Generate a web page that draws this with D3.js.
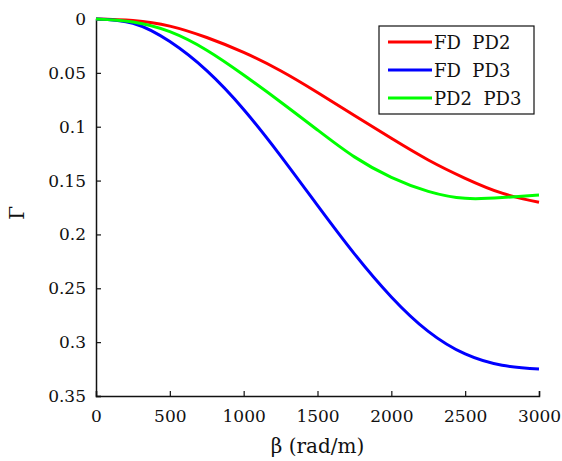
<!DOCTYPE html>
<html>
<head>
<meta charset="utf-8">
<script src="https://cdn.jsdelivr.net/npm/d3@7"></script>
<style>
body { margin: 0; background: #fff; }
</style>
</head>
<body>
<div id="chart"></div>
<script>
// data
var beta = [0, 250, 500, 750, 1000, 1250, 1500, 1750, 2000, 2250, 2500, 2750, 3000];
var fdPd2 = [0, 0.0014, 0.0066, 0.0172, 0.031, 0.048, 0.0682, 0.0896, 0.1108, 0.1309, 0.1479, 0.1617, 0.1702];
var fdPd3 = [0, 0.004, 0.021, 0.048, 0.084, 0.127, 0.173, 0.218, 0.258, 0.290, 0.311, 0.3215, 0.325];
var pd2Pd3 = [0, 0.0028, 0.0118, 0.029, 0.052, 0.077, 0.103, 0.128, 0.147, 0.160, 0.1665, 0.1658, 0.1634];
var seriesNames = ["FD  PD2", "FD  PD3", "PD2  PD3"];
var seriesColors = ["#ff0000", "#0000ff", "#00ff00"];
var xTicks = [0, 500, 1000, 1500, 2000, 2500, 3000];
var yTicks = [0, 0.05, 0.1, 0.15, 0.2, 0.25, 0.3, 0.35];

var W = 562, H = 461;
var margin = {left: 96, top: 19, right: 23, bottom: 65};
var serif = "DejaVu Serif";

var svg = d3.select("#chart").append("svg")
    .attr("width", W)
    .attr("height", H)
    .attr("font-family", serif);

var x = d3.scaleLinear().domain([0, 3000]).range([margin.left, W - margin.right]);
var y = d3.scaleLinear().domain([0, 0.35]).range([margin.top, H - margin.bottom]);

// axes (left + bottom only, ticks pointing inward)
var xAxis = svg.append("g")
    .attr("transform", "translate(0," + y(0.35) + ")")
    .call(d3.axisBottom(x).tickValues(xTicks).tickSize(-5).tickPadding(17).tickFormat(d3.format("d")));
var yAxis = svg.append("g")
    .attr("transform", "translate(" + x(0) + ",0)")
    .call(d3.axisLeft(y).tickValues(yTicks).tickSize(-5).tickPadding(10).tickFormat(function (d) { return d === 0 ? "0" : String(+d.toFixed(2)); }));

[xAxis, yAxis].forEach(function (a) {
    a.attr("font-family", serif).attr("font-size", 17);
    a.select(".domain").attr("stroke", "#111").attr("stroke-width", 1.5);
    a.selectAll(".tick line").attr("stroke", "#111").attr("stroke-width", 1.2);
    a.selectAll(".tick text").attr("fill", "#111");
});
xAxis.selectAll(".tick text").attr("dy", "0.5em");

// curves
var allSeries = [fdPd2, fdPd3, pd2Pd3];
var line = d3.line()
    .x(function (d, i) { return x(beta[i]); })
    .y(function (d) { return y(d); })
    .curve(d3.curveNatural);

svg.append("g").selectAll("path")
    .data(allSeries)
    .enter().append("path")
    .attr("d", line)
    .attr("fill", "none")
    .attr("stroke", function (d, i) { return seriesColors[i]; })
    .attr("stroke-width", 3);

// axis labels
svg.append("text")
    .attr("x", (x(0) + x(3000)) / 2)
    .attr("y", 453)
    .attr("text-anchor", "middle")
    .attr("font-size", 20)
    .attr("fill", "#111")
    .text("β (rad/m)");

svg.append("text")
    .attr("transform", "translate(24," + y(0.18) + ") rotate(-90)")
    .attr("text-anchor", "middle")
    .attr("font-size", 20)
    .attr("fill", "#111")
    .text("Γ");

// legend
var lg = svg.append("g").attr("transform", "translate(379,26)");
lg.append("rect")
    .attr("width", 155)
    .attr("height", 88)
    .attr("fill", "#fff")
    .attr("stroke", "#111")
    .attr("stroke-width", 1.2);
seriesNames.forEach(function (name, i) {
    var yy = 16 + i * 28;
    lg.append("line")
        .attr("x1", 9).attr("x2", 53)
        .attr("y1", yy).attr("y2", yy)
        .attr("stroke", seriesColors[i])
        .attr("stroke-width", 3);
    lg.append("text")
        .attr("x", 55)
        .attr("y", yy + 7)
        .attr("xml:space", "preserve")
        .style("white-space", "pre")
        .attr("font-size", 18)
        .attr("fill", "#111")
        .text(name);
});
</script>
</body>
</html>
